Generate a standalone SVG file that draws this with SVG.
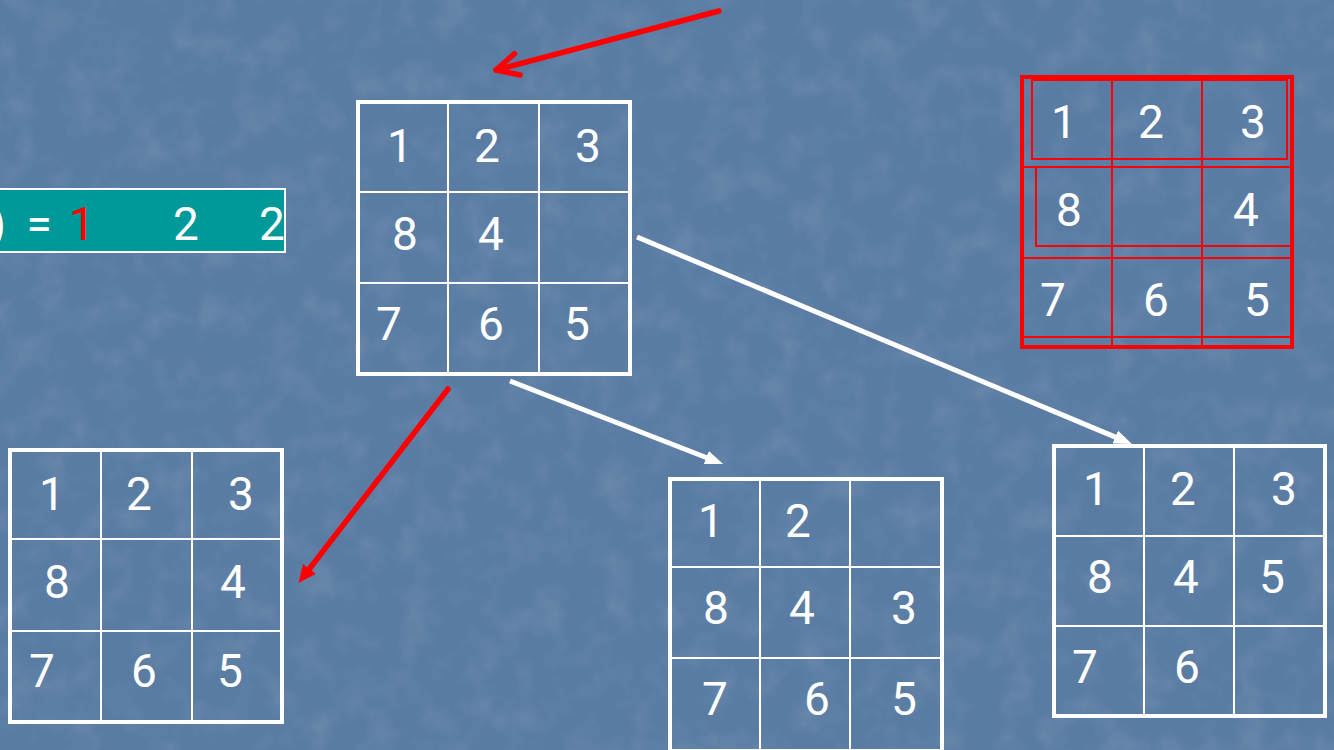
<svg xmlns="http://www.w3.org/2000/svg" width="1334" height="750" viewBox="0 0 1334 750">
<defs>
<style>
.num{font-family:Roboto,"Liberation Sans",sans-serif;font-weight:400;font-size:46px;fill:#ffffff;text-anchor:middle}
.red{fill:#ff0000}
.gout{fill:none;stroke:#ffffff;stroke-width:4}
.gin{fill:none;stroke:#ffffff;stroke-width:2}
.rout{fill:none;stroke:#ff0000;stroke-width:4}
.rin{fill:none;stroke:#ff0000;stroke-width:2}
.wline{fill:none;stroke:#ffffff;stroke-width:5}
.rline{fill:none;stroke:#ff0000;stroke-width:5.5;stroke-linecap:round}
</style>
<filter id="tex" x="0" y="0" width="100%" height="100%">
<feTurbulence type="fractalNoise" baseFrequency="0.03 0.03" numOctaves="3" seed="7" result="n"/>
<feColorMatrix in="n" type="matrix" values="0 0 0 0 1  0 0 0 0 1  0 0 0 0 1  0 0 0 1.4 -0.6"/>
</filter>
<marker id="ahW" viewBox="0 0 18 14" markerWidth="18" markerHeight="14" markerUnits="userSpaceOnUse" refX="4" refY="7" orient="auto">
<path d="M0,0 L18,7 L0,14 z" fill="#ffffff"/>
</marker>
<marker id="ahR" viewBox="0 0 18 16" markerWidth="18" markerHeight="16" markerUnits="userSpaceOnUse" refX="4" refY="8" orient="auto">
<path d="M0,0 L18,8 L0,16 z" fill="#ff0000"/>
</marker>
<marker id="ahV" viewBox="-28 -16 32 32" markerWidth="32" markerHeight="32" markerUnits="userSpaceOnUse" refX="0" refY="0" orient="auto" overflow="visible">
<path d="M-22,-11 L0,0 L-22,11" fill="none" stroke="#ff0000" stroke-width="5.5" stroke-linecap="round" stroke-linejoin="round"/>
</marker>
</defs>
<rect x="0" y="0" width="1334" height="750" fill="#5a7ca3"/>
<rect x="0" y="0" width="1334" height="750" filter="url(#tex)" opacity="0.12"/>

<g id="formula">
<rect x="-4" y="189" width="289" height="63" fill="#009999" stroke="#ffffff" stroke-width="2"/>
<text class="num" x="6" y="240" style="text-anchor:end">)</text>
<text class="num" x="39" y="240">=</text>
<text class="num red" x="82" y="240">1</text>
<text class="num" x="186" y="240">2</text>
<text class="num" x="272" y="240">2</text>
</g>

<g id="grid-center">
<rect class="gout" x="358" y="102" width="272" height="272"/>
<path class="gin" d="M448,102V374M539,102V374M358,192H630M358,283H630"/>
<text class="num" x="400" y="162">1</text>
<text class="num" x="487" y="162">2</text>
<text class="num" x="588" y="162">3</text>
<text class="num" x="405" y="250">8</text>
<text class="num" x="491" y="250">4</text>
<text class="num" x="389" y="340">7</text>
<text class="num" x="491" y="340">6</text>
<text class="num" x="577" y="340">5</text>
</g>

<g id="grid-goal">
<rect class="rout" x="1022" y="77" width="270" height="270"/>
<rect class="rin" x="1032" y="80" width="255" height="79"/>
<path class="rin" d="M1022,167H1292M1036,167V246H1292M1022,258H1292M1022,337H1292M1112,79V347M1202,79V347"/>
<text class="num" x="1064" y="138">1</text>
<text class="num" x="1151" y="138">2</text>
<text class="num" x="1253" y="138">3</text>
<text class="num" x="1069" y="226">8</text>
<text class="num" x="1246" y="226">4</text>
<text class="num" x="1053" y="316">7</text>
<text class="num" x="1156" y="316">6</text>
<text class="num" x="1257" y="316">5</text>
</g>

<g id="grid-left">
<rect class="gout" x="10" y="450" width="272" height="272"/>
<path class="gin" d="M101,450V722M192,450V722M10,539H282M10,631H282"/>
<text class="num" x="52" y="510">1</text>
<text class="num" x="139" y="510">2</text>
<text class="num" x="241" y="510">3</text>
<text class="num" x="57" y="598">8</text>
<text class="num" x="233" y="598">4</text>
<text class="num" x="42" y="687">7</text>
<text class="num" x="144" y="687">6</text>
<text class="num" x="230" y="687">5</text>
</g>

<g id="grid-middle">
<rect class="gout" x="670" y="479" width="272" height="272"/>
<path class="gin" d="M760,479V751M850,479V751M670,567H942M670,658H942"/>
<text class="num" x="711" y="537">1</text>
<text class="num" x="798" y="537">2</text>
<text class="num" x="716" y="624">8</text>
<text class="num" x="802" y="624">4</text>
<text class="num" x="904" y="624">3</text>
<text class="num" x="715" y="715">7</text>
<text class="num" x="817" y="715">6</text>
<text class="num" x="904" y="715">5</text>
</g>

<g id="grid-right">
<rect class="gout" x="1054" y="446" width="271" height="270"/>
<path class="gin" d="M1144,446V716M1234,446V716M1054,536H1325M1054,626H1325"/>
<text class="num" x="1096" y="505">1</text>
<text class="num" x="1183" y="505">2</text>
<text class="num" x="1284" y="505">3</text>
<text class="num" x="1100" y="593">8</text>
<text class="num" x="1186" y="593">4</text>
<text class="num" x="1272" y="593">5</text>
<text class="num" x="1085" y="683">7</text>
<text class="num" x="1187" y="683">6</text>
</g>

<g id="connectors">
<line class="rline" x1="719" y1="11" x2="496" y2="70" marker-end="url(#ahV)"/>
<line class="rline" x1="448" y1="389" x2="307" y2="572" marker-end="url(#ahR)"/>
<line class="wline" x1="510" y1="381" x2="710" y2="459" marker-end="url(#ahW)"/>
<line class="wline" x1="637" y1="237" x2="1119" y2="438.6" marker-end="url(#ahW)"/>
</g>
</svg>
